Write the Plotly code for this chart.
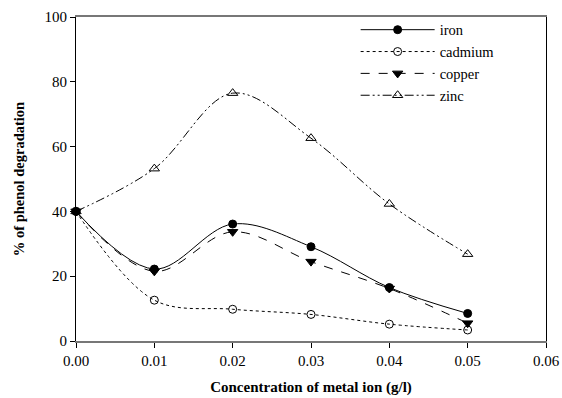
import plotly.graph_objects as go

conc = [0.00, 0.01, 0.02, 0.03, 0.04, 0.05]
iron = [40, 22.2, 36.1, 29.1, 16.5, 8.5]
cadmium = [40, 12.6, 9.8, 8.2, 5.2, 3.4]
copper = [40, 21.5, 33.7, 24.5, 16.2, 5.5]
zinc = [40, 53.2, 76.5, 62.6, 42.3, 26.8]

x_ticks = [0.00, 0.01, 0.02, 0.03, 0.04, 0.05, 0.06]
y_ticks = [0, 20, 40, 60, 80, 100]

FONT = "Liberation Serif, Times New Roman, serif"

fig = go.Figure()
series = [
    ("iron", iron, "solid", "circle", 8),
    ("cadmium", cadmium, "dot", "circle-open", 8),
    ("copper", copper, "dash", "triangle-down", 9),
    ("zinc", zinc, "9px,3px,2px,3px,2px,3px", "triangle-up-open", 9),
]
for name, vals, dash, sym, sz in series:
    fig.add_trace(go.Scatter(
        x=conc, y=vals, name=name, mode="lines+markers",
        line=dict(color="black", width=1, dash=dash, shape="spline"),
        marker=dict(symbol=sym, size=sz, color="black",
                    line=dict(color="black", width=1)),
        cliponaxis=False,
    ))

fig.update_layout(
    width=562, height=398,
    margin=dict(l=76, r=16, t=17, b=57, autoexpand=False),
    paper_bgcolor="white", plot_bgcolor="white",
    font=dict(family=FONT, size=15, color="black"),
    showlegend=True,
    legend=dict(x=0.595, y=1.01, xanchor="left", yanchor="top",
                bgcolor="rgba(0,0,0,0)", itemwidth=74,
                font=dict(family=FONT, size=14.5), tracegroupgap=0),
)
fig.update_xaxes(
    range=[0, 0.06], tickvals=x_ticks, tickformat=".2f", automargin=False,
    showgrid=False, zeroline=False,
    showline=True, linecolor="#777777", linewidth=1.5, mirror=True,
    ticks="outside", ticklen=5, tickcolor="black",
    tickfont=dict(family=FONT, size=15),
    title=dict(text="<b>Concentration of metal ion (g/l)</b>",
               font=dict(family=FONT, size=15), standoff=14),
)
fig.update_yaxes(
    range=[0, 100], tickvals=y_ticks, automargin=False,
    showgrid=False, zeroline=False,
    showline=True, linecolor="black", linewidth=1, mirror=True,
    ticks="outside", ticklen=5, tickcolor="black",
    tickfont=dict(family=FONT, size=15),
    title=dict(text="<b>% of phenol degradation</b>",
               font=dict(family=FONT, size=14.5), standoff=16),
)

fig.write_html(
    "out.html",
    config={"displayModeBar": False},
    post_script="document.body.style.margin='0';document.body.style.overflow='hidden';",
)
